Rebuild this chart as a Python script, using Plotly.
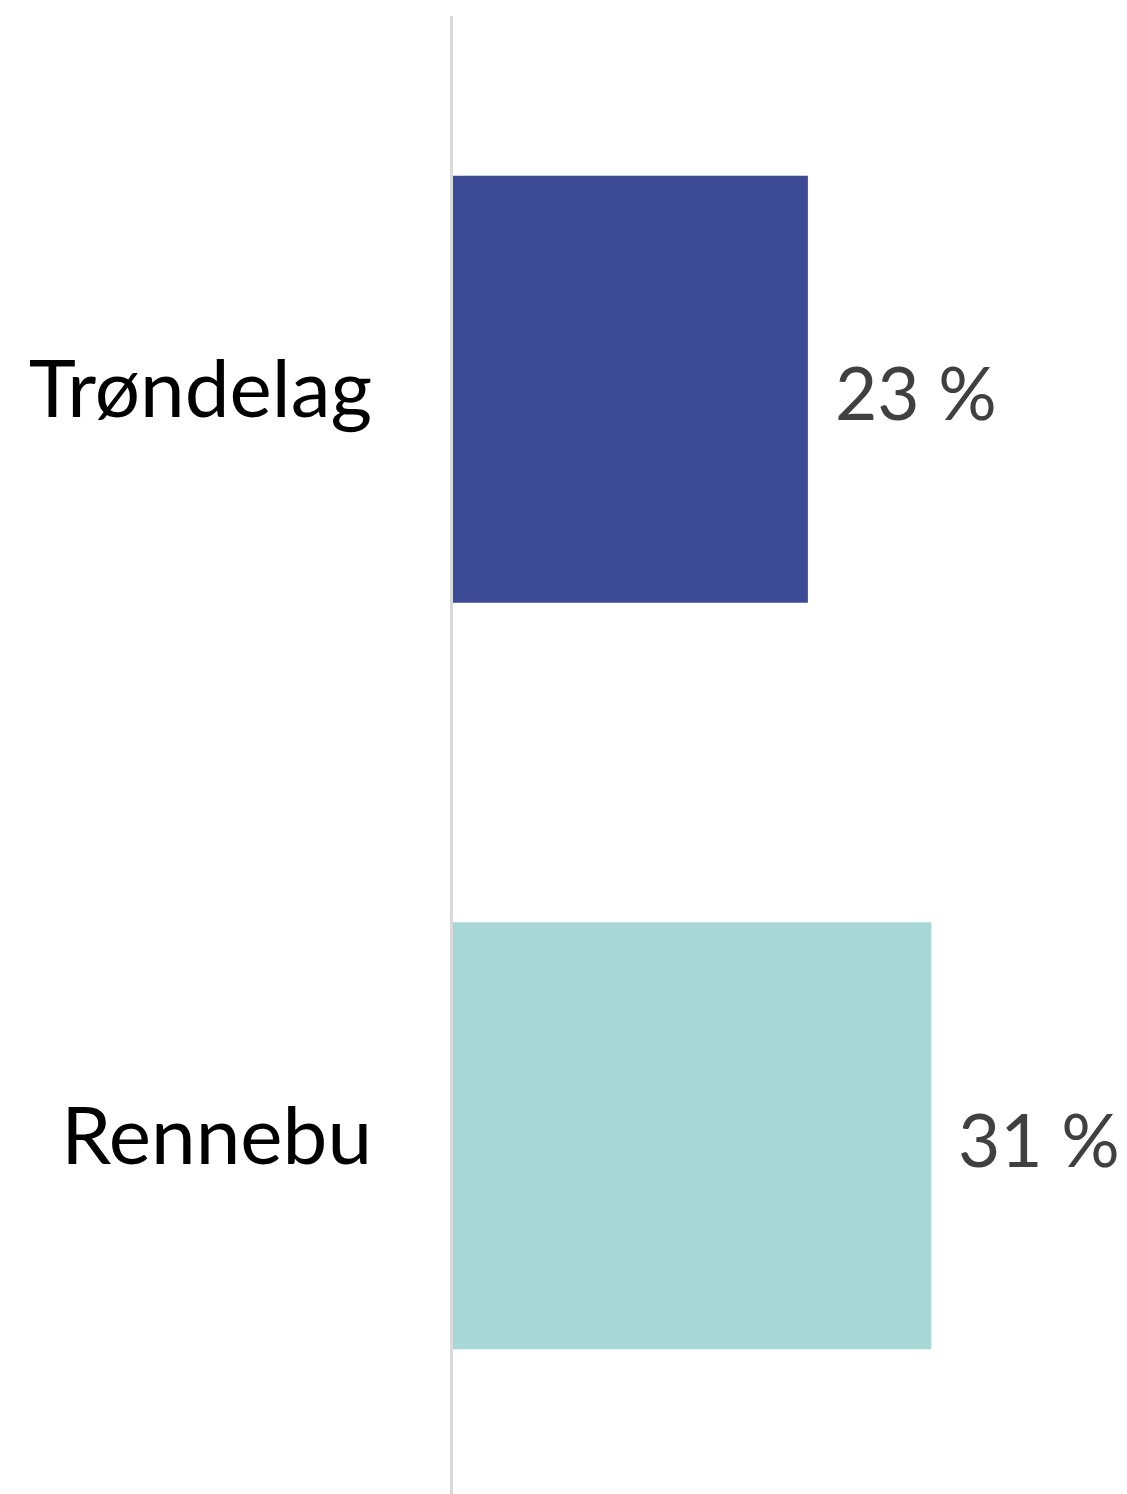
import plotly.graph_objects as go

categories = ["Trøndelag", "Rennebu"]
values = [23, 31]
labels = ["23 %", "31 %"]
colors = ["#3D4A96", "#A8D8D5"]

fig = go.Figure()
fig.add_trace(go.Bar(
    y=categories, x=values, orientation="h",
    marker=dict(color=colors, line=dict(width=0)),
    width=0.572,
    hoverinfo="skip",
))
for c, v, t in zip(categories, values, labels):
    fig.add_annotation(x=v, y=c, text=t, showarrow=False, xanchor="left",
                       yanchor="middle", xshift=25, yshift=-3,
                       font=dict(family="Lato", size=73, color="#404040"))

fig.update_layout(
    width=1127, height=1494,
    margin=dict(l=453, r=0, t=16, b=0, autoexpand=False),
    paper_bgcolor="white", plot_bgcolor="white",
    showlegend=False,
    font=dict(family="Lato", size=80, color="#000000"),
    xaxis=dict(range=[0, (1127 - 453) / 15.43], visible=False, showgrid=False, zeroline=False),
    yaxis=dict(categoryorder="array", categoryarray=categories,
               range=[1.48, -0.5], showgrid=False, zeroline=False,
               showline=True, linecolor="#D9D9D9", linewidth=3,
               ticks="", ticklabelstandoff=62,
               tickfont=dict(family="Lato", size=80, color="#000000")),
)
fig.write_html("out.html", config={"displayModeBar": False},
               post_script="document.body.style.margin='0px';document.body.style.padding='0px';")
